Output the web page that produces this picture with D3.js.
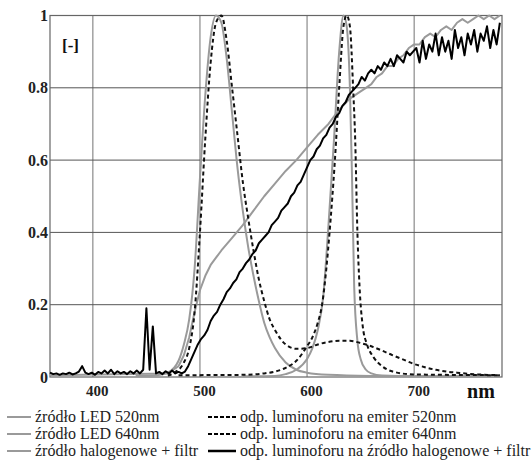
<!DOCTYPE html>
<html><head><meta charset="utf-8">
<style>
.warm{position:absolute;left:-600px;top:0;font-family:'Liberation Serif';font-size:16px}
.warm .a::before{content:"\017A r\00F3 d\0142 o 0.8"}
.warm .b::before{content:"nm 700";font-weight:bold}
</style>
<script src="https://cdn.jsdelivr.net/npm/d3@7"></script>
</head><body style="margin:0;background:#fff">
<div class="warm" aria-hidden="true"><span class="a"></span><span class="b"></span></div>
<svg id="c" width="531" height="467" style="display:block"></svg>
<script>
// ---- data ----
const xTicks = [400, 500, 600, 700];
const yTicks = [0, 0.2, 0.4, 0.6, 0.8, 1];
const yTickLabels = ["0", "0.2", "0.4", "0.6", "0.8", "1"];

const led520Nm  = [440,460,470,480,485,490,495,500,505,510,515,520,525,530,535,540,545,550,555,560,565,570,580,590,600,620,660,720,780];
const led520Val = [0.003,0.005,0.012,0.045,0.09,0.16,0.3,0.55,0.78,0.94,1.0,0.98,0.88,0.73,0.58,0.46,0.36,0.28,0.21,0.15,0.11,0.08,0.04,0.02,0.012,0.006,0.003,0.002,0.002];

const led640Nm  = [540,570,580,590,600,605,610,615,620,625,630,634,637,640,642,644,647,650,655,660,670,700,780];
const led640Val = [0.002,0.003,0.008,0.02,0.05,0.08,0.13,0.22,0.42,0.65,0.9,1.0,0.97,0.8,0.55,0.25,0.1,0.05,0.02,0.01,0.004,0.002,0.002];

const halNm  = [360,470,480,485,490,495,500,505,510,515,520,530,540,550,560,570,580,590,600,610,620,630,640,650,655,660,665,670,675,680,685,690,695,700,705,710,715,720,725,730,735,740,745,750,755,760,765,770,775,780];
const halVal = [0.005,0.01,0.03,0.06,0.11,0.18,0.24,0.28,0.31,0.33,0.35,0.385,0.42,0.46,0.5,0.535,0.57,0.6,0.635,0.67,0.7,0.74,0.77,0.79,0.8,0.81,0.83,0.84,0.86,0.86,0.88,0.89,0.91,0.92,0.92,0.94,0.95,0.94,0.96,0.97,0.96,0.98,0.99,0.98,0.99,1.0,0.99,1.0,0.99,1.0];

const resp520Nm  = [470,475,485,490,495,500,505,510,515,520,525,530,535,540,545,550,555,560,565,570,580,590,600,610,620,630,640,650,660,670,680,690,700,710,720,730,740,750,760,780];
const resp520Val = [0.004,0.01,0.04,0.08,0.18,0.4,0.66,0.87,0.98,1.0,0.93,0.8,0.67,0.54,0.44,0.35,0.27,0.21,0.16,0.13,0.09,0.078,0.08,0.09,0.097,0.1,0.1,0.094,0.085,0.073,0.06,0.048,0.036,0.027,0.02,0.015,0.012,0.009,0.007,0.005];

const resp640Nm  = [480,540,560,570,580,590,600,605,610,614,618,621,626,630,634,637,640,643,645,647,649,652,656,662,670,680,700,780];
const resp640Val = [0.005,0.006,0.01,0.015,0.025,0.045,0.085,0.11,0.15,0.2,0.3,0.4,0.6,0.8,0.97,1.0,0.97,0.8,0.65,0.4,0.25,0.14,0.09,0.055,0.03,0.015,0.007,0.005];

// phosphor response to halogen + filter, 360..780 nm every 3 nm
const respHalStart = 360, respHalStep = 3;
const respHalVal = [
0.012,0.008,0.01,0.006,0.01,0.008,0.012,0.007,0.01,0.015,0.03,0.012,0.008,0.012,0.006,0.014,0.01,0.018,0.01,0.02,
0.008,0.016,0.01,0.014,0.008,0.016,0.01,0.018,0.01,0.02,0.19,0.02,0.14,0.01,0.014,0.008,0.016,0.01,0.018,0.01,
0.014,0.01,0.015,0.03,0.05,0.07,0.09,0.105,0.115,0.13,0.155,0.17,0.18,0.2,0.215,0.235,0.245,0.26,0.27,0.29,
0.3,0.315,0.325,0.34,0.35,0.37,0.38,0.39,0.4,0.42,0.43,0.44,0.46,0.47,0.48,0.5,0.51,0.53,0.54,0.56,
0.58,0.6,0.61,0.63,0.64,0.66,0.67,0.69,0.7,0.72,0.73,0.75,0.76,0.78,0.79,0.8,0.81,0.83,0.82,0.84,
0.85,0.84,0.86,0.85,0.87,0.86,0.88,0.86,0.89,0.88,0.87,0.9,0.89,0.9,0.91,0.87,0.93,0.88,0.92,0.9,
0.95,0.89,0.94,0.9,0.93,0.88,0.96,0.91,0.94,0.89,0.95,0.92,0.96,0.9,0.95,0.93,0.97,0.91,0.96,0.92,0.98];

const legendLeft  = ["źródło LED 520nm", "źródło LED 640nm", "źródło halogenowe + filtr"];
const legendRight = ["odp. luminoforu na emiter 520nm", "odp. luminoforu na emiter 640nm", "odp. luminoforu na źródło halogenowe + filtr"];

// ---- drawing ----
const st = (size, bold) => `font-family:'Liberation Serif';font-size:${size}px;font-weight:${bold ? "bold" : "normal"}`;
const svg = d3.select("#c");
const x = d3.scaleLinear().domain([360, 782]).range([50, 502]);
const y = d3.scaleLinear().domain([0, 1]).range([377, 15.5]);
const GRAY = "#9a9a9a";

// grid
const g = svg.append("g");
g.selectAll(".vg").data(xTicks).join("line")
  .attr("x1", d => x(d)).attr("x2", d => x(d)).attr("y1", y(1)).attr("y2", y(0))
  .attr("stroke", "#8a8a8a").attr("stroke-width", 1.2);
g.selectAll(".hg").data(yTicks.filter(d => d > 0 && d < 1)).join("line")
  .attr("x1", x(360)).attr("x2", x(782)).attr("y1", d => y(d)).attr("y2", d => y(d))
  .attr("stroke", "#555").attr("stroke-width", 1);
g.append("rect").attr("x", x(360)).attr("y", y(1)).attr("width", x(782) - x(360)).attr("height", y(0) - y(1))
  .attr("fill", "none").attr("stroke", "#666").attr("stroke-width", 1.2);

// axes labels
const yAxis = d3.axisLeft(y).tickValues(yTicks).tickFormat((d, i) => yTickLabels[i]).tickSize(0).tickPadding(2);
const ya = svg.append("g").attr("transform", `translate(${x(360)},0)`).call(yAxis);
ya.attr("font-family", null).attr("font-size", null);
ya.select(".domain").remove();
ya.selectAll("text").attr("style", st(16, true)).attr("fill", "#222");

const xAxis = d3.axisBottom(x).tickValues(xTicks).tickFormat(d3.format("d")).tickSize(0).tickPadding(8);
const xa = svg.append("g").attr("transform", `translate(4,${y(0)})`).call(xAxis);
xa.attr("font-family", null).attr("font-size", null);
xa.select(".domain").remove();
xa.selectAll("text").attr("style", st(15, true)).attr("fill", "#222");

svg.append("text").attr("x", 481).attr("y", 398).attr("text-anchor", "middle")
  .attr("style", st(20, true)).attr("fill", "#111").text("nm");
svg.append("text").attr("x", 62).attr("y", 51)
  .attr("style", st(17, true)).attr("fill", "#111").text("[-]");

// curves
const lineSmooth = d3.line().x(d => x(d[0])).y(d => y(d[1])).curve(d3.curveMonotoneX);
const lineRaw = d3.line().x(d => x(d[0])).y(d => y(d[1]));
const zip = (a, b) => a.map((v, i) => [v, b[i]]);

const plot = svg.append("g");
function draw(data, color, dash, gen) {
  plot.append("path").datum(data).attr("d", gen).attr("fill", "none")
    .attr("stroke", color).attr("stroke-width", 2).attr("stroke-linejoin", "round")
    .attr("stroke-dasharray", dash);
}
draw(zip(led520Nm, led520Val), GRAY, null, lineSmooth);
draw(zip(led640Nm, led640Val), GRAY, null, lineSmooth);
draw(zip(halNm, halVal), GRAY, null, lineRaw);
draw(zip(resp520Nm, resp520Val), "#111", "4,3", lineSmooth);
draw(zip(resp640Nm, resp640Val), "#111", "4,3", lineSmooth);
draw(respHalVal.map((v, i) => [respHalStart + i * respHalStep, v]), "#000", null, lineRaw);

// legend
const lg = svg.append("g");
const rowsY = [417, 434, 451];
legendLeft.forEach((t, i) => {
  lg.append("line").attr("x1", 7).attr("x2", 31).attr("y1", rowsY[i]).attr("y2", rowsY[i])
    .attr("stroke", GRAY).attr("stroke-width", 2);
  lg.append("text").attr("x", 35).attr("y", rowsY[i] + 5)
    .attr("style", st(16, false)).attr("fill", "#222").text(t);
});
legendRight.forEach((t, i) => {
  lg.append("line").attr("x1", 208).attr("x2", 236).attr("y1", rowsY[i]).attr("y2", rowsY[i])
    .attr("stroke", "#000").attr("stroke-width", i < 2 ? 2 : 2.5).attr("stroke-dasharray", i < 2 ? "4,2" : null);
  lg.append("text").attr("x", 240).attr("y", rowsY[i] + 5)
    .attr("style", st(16, false)).attr("fill", "#222").text(t);
});
</script>
</body></html>
